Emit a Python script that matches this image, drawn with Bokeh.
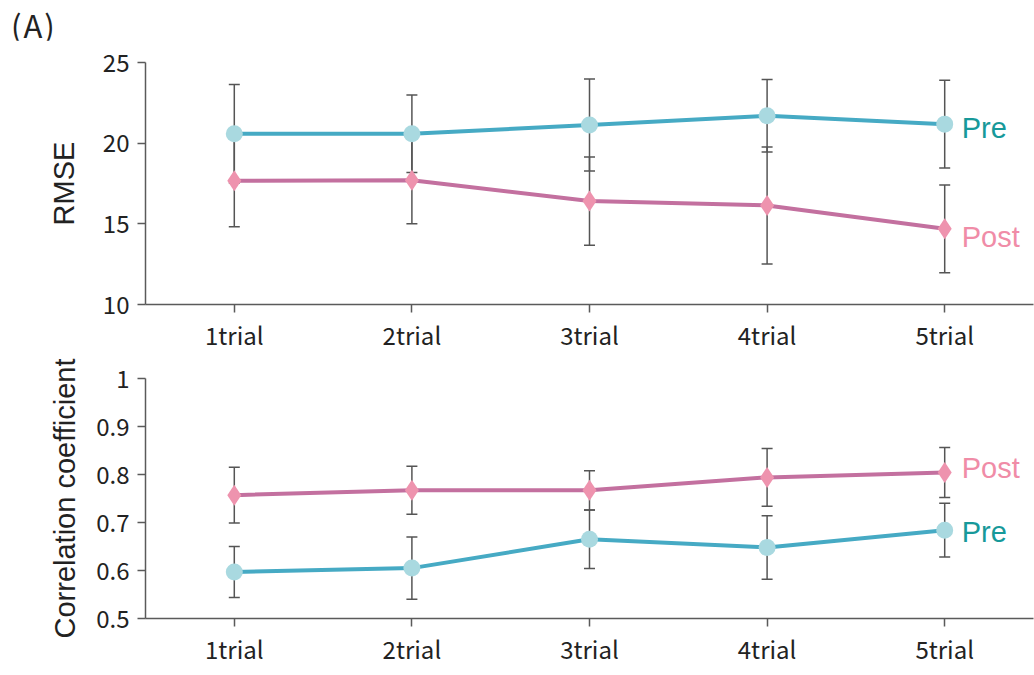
from bokeh.plotting import figure
from bokeh.layouts import column
from bokeh.models import (ColumnDataSource, Whisker, TeeHead, Range1d, FactorRange,
                          FixedTicker, Div)
from bokeh.core.properties import value
from bokeh.embed import file_html
from bokeh.resources import INLINE

# ---- data -------------------------------------------------------------
trials = ["1trial", "2trial", "3trial", "4trial", "5trial"]

rmse_pre = [20.58, 20.58, 21.12, 21.70, 21.18]
rmse_pre_sd = [3.05, 2.40, 2.85, 2.24, 2.72]
rmse_post = [17.67, 17.70, 16.41, 16.14, 14.69]
rmse_post_sd = [2.85, 2.70, 2.74, 3.63, 2.72]

corr_pre = [0.597, 0.605, 0.665, 0.648, 0.684]
corr_pre_sd = [0.053, 0.065, 0.061, 0.066, 0.056]
corr_post = [0.757, 0.767, 0.767, 0.794, 0.804]
corr_post_sd = [0.058, 0.050, 0.041, 0.060, 0.052]

rmse_ticks = [10, 15, 20, 25]
corr_ticks = [0.5, 0.6, 0.7, 0.8, 0.9, 1.0]

# ---- style ------------------------------------------------------------
PRE_LINE, PRE_MARK, PRE_TEXT = "#46aac4", "#a9d9e0", "#17999a"
POST_LINE, POST_MARK, POST_TEXT = "#c3709f", "#ee93ae", "#f08ca7"
AXIS = "#5a5a5a"
TICK_FONT = "Noto Sans CJK JP"
LABEL_FONT = "Liberation Sans"
W = 1034


def style_axes(p, ylabel, standoff):
    for ax in (p.xaxis, p.yaxis):
        ax.axis_line_color = AXIS
        ax.axis_line_width = 1.5
        ax.major_tick_line_color = AXIS
        ax.major_tick_line_width = 1.5
        ax.major_tick_out = 8
        ax.major_tick_in = 0
        ax.minor_tick_line_color = None
        ax.major_label_text_font = TICK_FONT
        ax.major_label_text_font_size = "24px"
        ax.major_label_text_color = "#222222"
    p.xaxis.major_label_standoff = 4
    p.yaxis.major_label_standoff = 8
    p.yaxis.axis_label = ylabel
    p.yaxis.axis_label_text_font = LABEL_FONT
    p.yaxis.axis_label_text_font_size = "29px"
    p.yaxis.axis_label_text_font_style = "normal"
    p.yaxis.axis_label_text_color = "#222222"
    p.yaxis.axis_label_standoff = standoff
    p.xgrid.grid_line_color = None
    p.ygrid.grid_line_color = None
    p.outline_line_color = None


def draw_series(p, means, sds, line_color, mark_color, marker, size):
    src = ColumnDataSource(dict(
        x=trials, y=means,
        lo=[m - s for m, s in zip(means, sds)],
        hi=[m + s for m, s in zip(means, sds)],
    ))
    p.add_layout(Whisker(source=src, base="x", lower="lo", upper="hi",
                         line_color="#555555", line_width=1.5,
                         upper_head=TeeHead(size=11, line_color="#555555", line_width=1.5),
                         lower_head=TeeHead(size=11, line_color="#555555", line_width=1.5)))
    p.line("x", "y", source=src, line_color=line_color, line_width=4)
    p.scatter("x", "y", source=src, marker=marker, size=size,
              fill_color=mark_color, line_color=None)
    return src


def end_labels(p, names, ys, colors, offsets):
    src = ColumnDataSource(dict(x=[trials[-1]] * len(names), y=ys, t=names,
                                c=colors, dy=offsets))
    p.text("x", "y", text="t", source=src, x_offset=17, y_offset="dy",
           text_color="c", text_font=value(LABEL_FONT), text_font_size="29px",
           text_baseline="middle", text_align="left")


# ---- panel tag ---------------------------------------------------------
tag = Div(text="(A)", width=W, height=40, margin=(0, 0, 0, 0),
          styles={"font-size": "31px", "font-family": "Noto Sans CJK JP",
                  "color": "#222222", "line-height": "1", "padding-left": "11px",
                  "padding-top": "9px", "letter-spacing": "2px"})

# ---- top panel: RMSE ---------------------------------------------------
top = figure(width=W, height=314, x_range=FactorRange(*trials), y_range=Range1d(10, 25),
             output_backend="svg", toolbar_location=None,
             min_border_left=145, min_border_right=1, min_border_top=22,
             min_border_bottom=50)
style_axes(top, "RMSE", 20)
top.yaxis.ticker = FixedTicker(ticks=rmse_ticks)
draw_series(top, rmse_pre, rmse_pre_sd, PRE_LINE, PRE_MARK, "circle", 17)
draw_series(top, rmse_post, rmse_post_sd, POST_LINE, POST_MARK, "diamond", 21)
end_labels(top, ["Pre", "Post"], [rmse_pre[-1], rmse_post[-1]],
           [PRE_TEXT, POST_TEXT], [4, 8])

# ---- bottom panel: correlation ----------------------------------------
bot = figure(width=W, height=321, x_range=top.x_range, y_range=Range1d(0.5, 1.0),
             output_backend="svg", toolbar_location=None,
             min_border_left=145, min_border_right=1, min_border_top=24,
             min_border_bottom=57)
style_axes(bot, "Correlation coefficient", 12)
bot.yaxis.ticker = FixedTicker(ticks=corr_ticks)
bot.yaxis.major_label_overrides = {1.0: "1", 1: "1"}
draw_series(bot, corr_pre, corr_pre_sd, PRE_LINE, PRE_MARK, "circle", 17)
draw_series(bot, corr_post, corr_post_sd, POST_LINE, POST_MARK, "diamond", 21)
end_labels(bot, ["Post", "Pre"], [corr_post[-1], corr_pre[-1]],
           [POST_TEXT, PRE_TEXT], [-5, 2])

layout = column(tag, top, bot, spacing=0)
open("out.html", "w").write(file_html(layout, INLINE))
